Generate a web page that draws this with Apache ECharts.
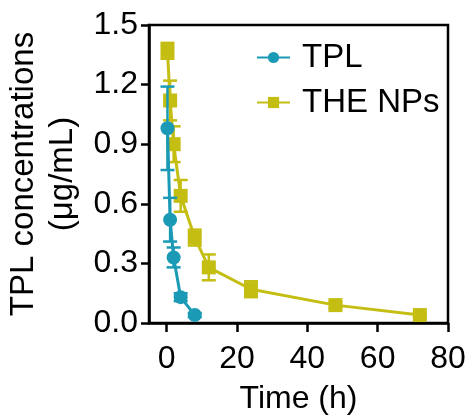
<!DOCTYPE html>
<html>
<head>
<meta charset="utf-8">
<script src="https://cdn.jsdelivr.net/npm/echarts@6/dist/echarts.min.js"></script>
<style>html,body{margin:0;padding:0;background:#fff;}#c{width:472px;height:418px;}</style>
</head>
<body>
<div id="c"></div>
<script>
var tplTime = [0.25, 1, 2, 4, 8];
var tplMean = [0.98, 0.52, 0.33, 0.13, 0.04];
var tplErr  = [0.21, 0.11, 0.05, 0.02, 0.01];
var npTime = [0.25, 1, 2, 4, 8, 12, 24, 48, 72];
var npMean = [1.37, 1.12, 0.90, 0.64, 0.43, 0.28, 0.17, 0.09, 0.04];
var npErr  = [0.04, 0.10, 0.09, 0.08, 0.04, 0.065, 0.04, 0.015, 0.01];
var xTicks = [0, 20, 40, 60, 80];
var yTicks = [0.0, 0.3, 0.6, 0.9, 1.2, 1.5];

var TEAL = '#1b9ab6';
var OLIVE = '#c4bd12';
var FONT = 'Liberation Sans, Arial, sans-serif';

function pairs(t, v) { return t.map(function (x, i) { return [x, v[i]]; }); }
function errData(t, v, e) { return t.map(function (x, i) { return [x, v[i] - e[i], v[i] + e[i]]; }); }
function errSeries(name, data, color, z) {
  return {
    type: 'custom', name: name + ' err', data: data, z: z, silent: true,
    renderItem: function (params, api) {
      var x = api.value(0);
      var lo = api.coord([x, api.value(1)]);
      var hi = api.coord([x, api.value(2)]);
      var w = 7;
      var st = { stroke: color, lineWidth: 2.5 };
      return { type: 'group', children: [
        { type: 'line', shape: { x1: lo[0], y1: lo[1], x2: hi[0], y2: hi[1] }, style: st },
        { type: 'line', shape: { x1: lo[0] - w, y1: lo[1], x2: lo[0] + w, y2: lo[1] }, style: st },
        { type: 'line', shape: { x1: hi[0] - w, y1: hi[1], x2: hi[0] + w, y2: hi[1] }, style: st }
      ]};
    },
    encode: { x: 0, y: [1, 2] }
  };
}

var chart = echarts.init(document.getElementById('c'), null, { renderer: 'canvas' });
chart.setOption({
  animation: false,
  backgroundColor: '#fff',
  grid: { left: 149, right: 24, top: 25, bottom: 95, containLabel: false, outerBoundsMode: 'none',
    show: true, borderColor: '#000', borderWidth: 2.5, backgroundColor: 'transparent' },
  legend: {
    orient: 'vertical', left: 251, top: 36, itemGap: 12,
    itemWidth: 33, itemHeight: 14,
    data: ['TPL', 'THE NPs'],
    textStyle: { fontFamily: FONT, fontSize: 33, color: '#000', padding: [0, 0, 0, 7] }
  },
  xAxis: {
    type: 'value', min: -5, max: 80, interval: 20,
    axisLine: { show: true, onZero: false, lineStyle: { color: '#000', width: 2.5 } },
    axisTick: { show: true, length: 9, lineStyle: { color: '#000', width: 2.5 },
      customValues: xTicks },
    axisLabel: { fontFamily: FONT, fontSize: 32, color: '#000', margin: 20, customValues: xTicks },
    splitLine: { show: false },
    name: 'Time (h)', nameLocation: 'middle', nameGap: 60,
    nameTextStyle: { fontFamily: FONT, fontSize: 32, color: '#000' }
  },
  yAxis: {
    type: 'value', min: 0, max: 1.5, interval: 0.3,
    axisLine: { show: true, onZero: false, lineStyle: { color: '#000', width: 2.5 } },
    axisTick: { show: true, length: 8, lineStyle: { color: '#000', width: 2.5 } },
    axisLabel: { fontFamily: FONT, fontSize: 32, color: '#000', margin: 11,
      formatter: function (v) { return v.toFixed(1); } },
    splitLine: { show: false },
    name: 'TPL concentrations\n(μg/mL)', nameLocation: 'middle', nameRotate: 90, nameGap: 67,
    nameTextStyle: { fontFamily: FONT, fontSize: 33, color: '#000', lineHeight: 39 }
  },
  series: [
    errSeries('THE NPs', errData(npTime, npMean, npErr), OLIVE, 2),
    {
      type: 'line', name: 'THE NPs', data: pairs(npTime, npMean), z: 3,
      symbol: 'rect', symbolSize: 14,
      lineStyle: { color: OLIVE, width: 3 }, itemStyle: { color: OLIVE }
    },
    errSeries('TPL', errData(tplTime, tplMean, tplErr), TEAL, 4),
    {
      type: 'line', name: 'TPL', data: pairs(tplTime, tplMean), z: 5,
      symbol: 'circle', symbolSize: 14,
      lineStyle: { color: TEAL, width: 3 }, itemStyle: { color: TEAL }
    }
  ]
});
</script>
</body>
</html>
